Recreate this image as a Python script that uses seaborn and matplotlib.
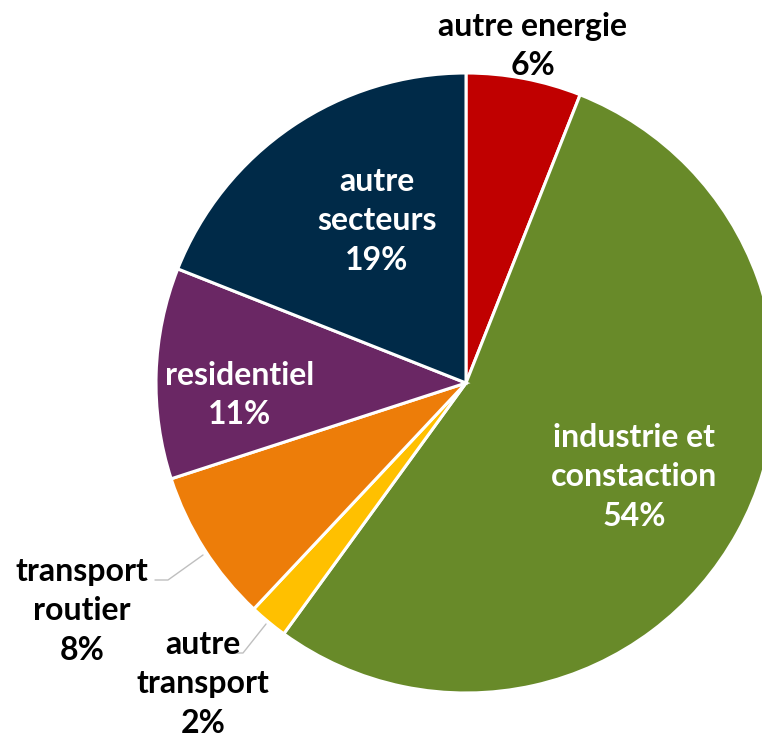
import matplotlib
matplotlib.use("Agg")
import matplotlib.pyplot as plt
import seaborn as sns

sns.set_theme(style="white")
plt.rcParams['font.family'] = ['Lato', 'DejaVu Sans']

labels = ['autre energie', 'industrie et\nconstaction', 'autre\ntransport',
          'transport\nroutier', 'residentiel', 'autre\nsecteurs']
shares = [6, 54, 2, 8, 11, 19]
colors = ['#C00000', '#688A29', '#FFC000', '#ED7D09', '#6A2764', '#002A48']

# label placement in pixels of the 762x738 image (center of text block)
label_px = [(533, 46), (634, 477), (203, 684), (82, 611), (240, 395), (377, 221)]
label_color = ['black', 'white', 'black', 'black', 'white', 'white']
# leader lines for outside labels (pixel coords): text end -> elbow -> wedge
leaders = {2: [(233, 653), (243, 653), (266, 624)],
           3: [(155, 580), (168, 580), (203, 555)]}

W, H = 762, 738
cx, cy, r = 466, 383, 310

fig = plt.figure(figsize=(W / 100, H / 100), dpi=100)
ax = fig.add_axes([(cx - r) / W, (H - cy - r) / H, 2 * r / W, 2 * r / H])

wedges, _ = ax.pie(shares, colors=colors, startangle=90, counterclock=False,
                   wedgeprops=dict(edgecolor='white', linewidth=2.2))
for w in wedges:
    w.set_clip_on(False)
ax.set_xlim(-1, 1)
ax.set_ylim(-1, 1)
ax.set_aspect('auto')
ax.axis('off')


def to_data(px, py):
    return (px - cx) / r, (cy - py) / r


for i, (lab, val) in enumerate(zip(labels, shares)):
    x, y = to_data(*label_px[i])
    ax.text(x, y, f"{lab}\n{val}%", ha='center', va='center', fontsize=23,
            fontweight='bold', color=label_color[i], linespacing=1.42,
            clip_on=False)

for i, pts in leaders.items():
    xs, ys = zip(*[to_data(*p) for p in pts])
    ax.plot(xs, ys, color='#BFBFBF', linewidth=1, clip_on=False)

fig.savefig('out.png', dpi=100)
